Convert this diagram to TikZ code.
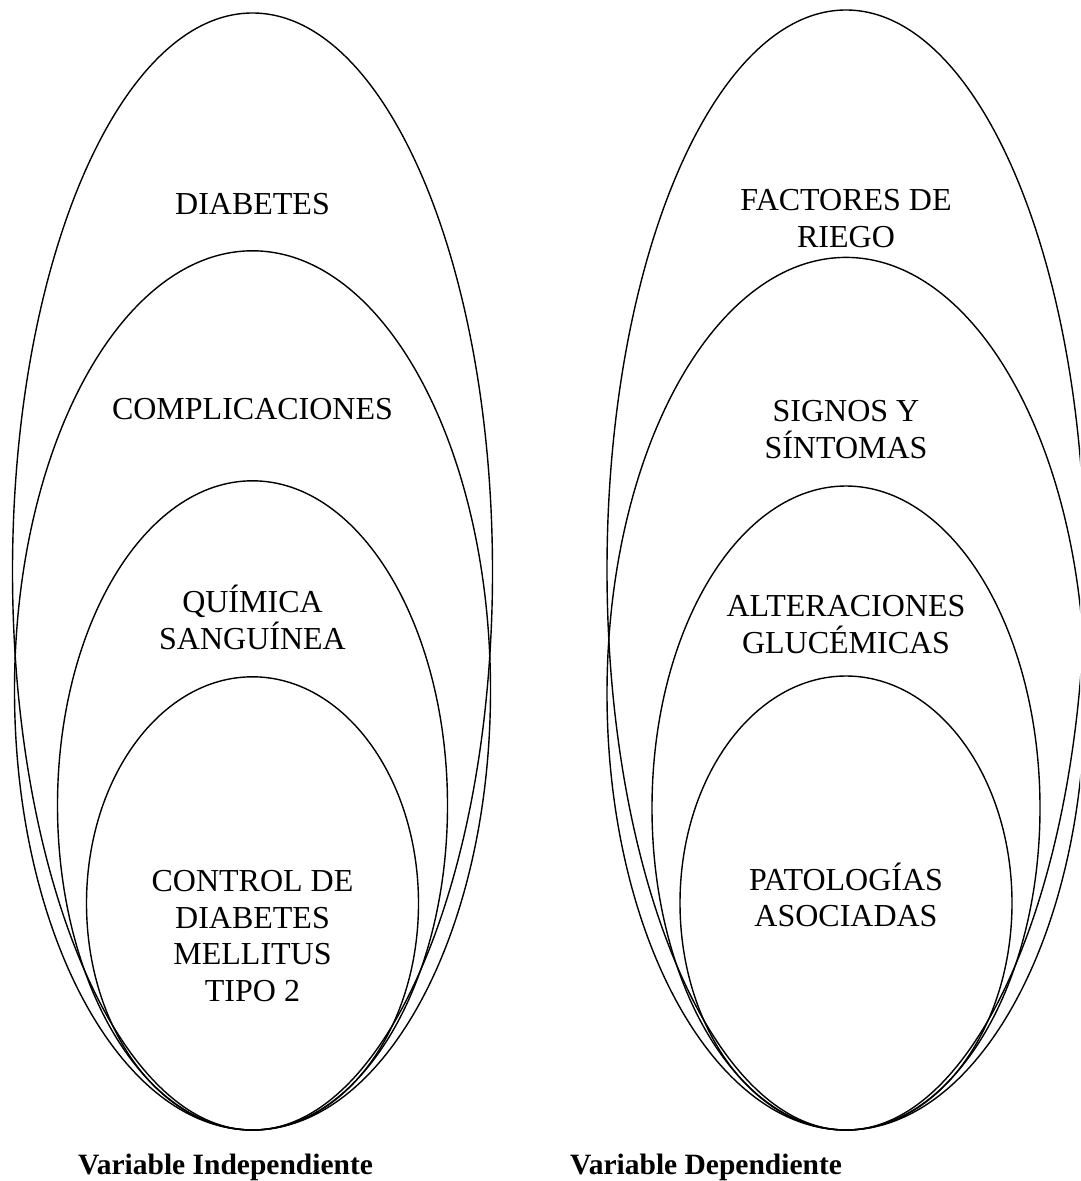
\documentclass[tikz,border=0pt]{standalone}
\usepackage{fontspec}
\setmainfont{Liberation Serif}
\begin{document}
\begin{tikzpicture}[x=1pt,y=-1pt,
  ring/.style={draw=black,line width=1.4pt},
  lbl/.style={align=center,anchor=base,inner sep=0pt,font=\fontsize{32}{36.7}\selectfont},
  varlbl/.style={anchor=base west,inner sep=0pt,font=\fontsize{29.5}{34}\selectfont\bfseries}]
\useasboundingbox (0,0) rectangle (1080,1181);
\clip (0,0) rectangle (1080,1181);
% left group (bottom at 1130)
\draw[ring] (252.5,571.5) ellipse [x radius=240pt, y radius=558.5pt];
\draw[ring] (252.5,690.4) ellipse [x radius=238pt, y radius=439.6pt];
\draw[ring] (252.5,805.4) ellipse [x radius=195pt, y radius=324.6pt];
\draw[ring] (252.5,903.4) ellipse [x radius=166pt, y radius=226.6pt];
% right group
\draw[ring] (846,570) ellipse [x radius=239pt, y radius=560pt];
\draw[ring] (846,693.7) ellipse [x radius=239pt, y radius=436.3pt];
\draw[ring] (846,808) ellipse [x radius=194pt, y radius=322pt];
\draw[ring] (846,903) ellipse [x radius=166pt, y radius=227pt];
% labels (anchor = baseline of last line)
\node[lbl] (diab) at (252.5,214.5) {DIABETES};
\node[lbl] (comp) at (252.5,419) {COMPLICACIONES};
\node[lbl] (quim) at (252.5,649.3) {QUÍMICA\\SANGUÍNEA};
\node[lbl] (ctrl) at (252.5,1001.5) {CONTROL DE\\DIABETES\\MELLITUS\\TIPO 2};
\node[lbl] (fact) at (846,247.5) {FACTORES DE\\RIEGO};
\node[lbl] (sign) at (846,458.5) {SIGNOS Y\\SÍNTOMAS};
\node[lbl] (alte) at (846,653.3) {ALTERACIONES\\GLUCÉMICAS};
\node[lbl] (pato) at (846,926.7) {PATOLOGÍAS\\ASOCIADAS};
\node[varlbl] (vind) at (78,1174) {Variable Independiente};
\node[varlbl] (vdep) at (570,1174) {Variable Dependiente};
\end{tikzpicture}
\end{document}
